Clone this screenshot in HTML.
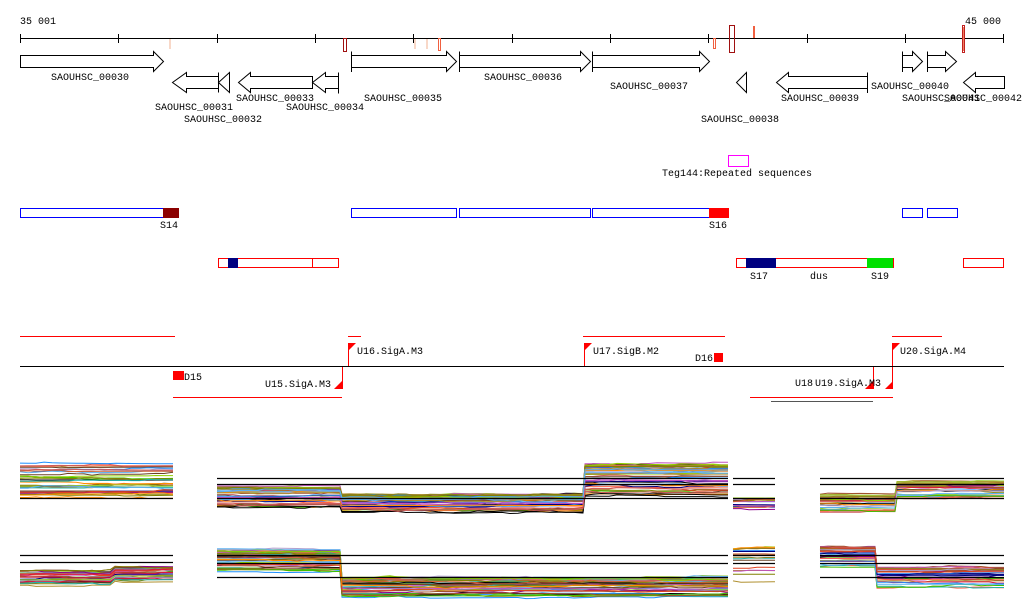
<!DOCTYPE html>
<html><head><meta charset="utf-8"><style>
body{margin:0;background:#fff}
svg text{font-family:"Liberation Mono",monospace;font-size:10px;fill:#000}
</style></head><body>
<svg id="s" width="1024" height="611" xmlns="http://www.w3.org/2000/svg">
<g stroke="#000" fill="none" stroke-width="1">
<line x1="20" y1="38.5" x2="1004" y2="38.5"/>
<path d="M20.5 34v9M118.5 34v9M217.5 34v9M315.5 34v9M413.5 34v9M512.5 34v9M610.5 34v9M708.5 34v9M807.5 34v9M905.5 34v9M1003.5 34v9"/>
</g>
<text x="20" y="24">35 001</text><text x="965" y="24">45 000</text>
<rect x="169" y="39" width="2" height="10" fill="#f8d8c8"/>
<rect x="343.5" y="38.5" width="3" height="13" fill="none" stroke="#a01010"/>
<rect x="414" y="39" width="2" height="10" fill="#f8d8c8"/>
<rect x="426" y="39" width="2" height="10" fill="#f8d8c8"/>
<rect x="438.5" y="38.5" width="2" height="12" fill="none" stroke="#f06040"/>
<rect x="713.5" y="38.5" width="2" height="10" fill="none" stroke="#f06040"/>
<rect x="729.5" y="25.5" width="5" height="27" fill="none" stroke="#a01010"/>
<rect x="753" y="26" width="2" height="12" fill="#f06040"/>
<rect x="962.5" y="25.5" width="2" height="27" fill="none" stroke="#c02020"/>
<rect x="963" y="27" width="1" height="24" fill="#f08060"/>
<g stroke="#000" fill="#fff" stroke-width="1">
<path d="M20.5 55.5H153.5V51.5L163.5 61.5L153.5 71.5V67.5H20.5Z"/>
<path d="M218.5 76.5H186.5V72.5L172.5 82.5L186.5 92.5V88.5H218.5Z"/>
<path d="M218.5 72.5V92.5M229.5 72.5L218.5 82.5L229.5 92.5Z"/>
<path d="M312.5 76.5H250.5V72.5L238.5 82.5L250.5 92.5V88.5H312.5Z"/>
<path d="M338.5 76.5H325.5V72.5L312.5 82.5L325.5 92.5V88.5H338.5Z"/>
<path d="M338.5 72.5V93.5"/>
<path d="M351.5 55.5H446.5V51.5L456.5 61.5L446.5 71.5V67.5H351.5Z M351.5 51.5V72"/>
<path d="M459.5 55.5H580.5V51.5L590.5 61.5L580.5 71.5V67.5H459.5Z M459.5 51.5V72"/>
<path d="M592.5 55.5H699.5V51.5L709.5 61.5L699.5 71.5V67.5H592.5Z M592.5 51.5V72"/>
<path d="M746.5 72.5L736.5 82.5L746.5 92.5Z"/>
<path d="M867.5 76.5H788.5V72.5L776.5 82.5L788.5 92.5V88.5H867.5Z M867.5 72.5V93"/>
<path d="M902.5 55.5H912.5V51.5L922.5 61.5L912.5 71.5V67.5H902.5Z M902.5 51.5V72"/>
<path d="M927.5 55.5H945.5V51.5L956.5 61.5L945.5 71.5V67.5H927.5Z M927.5 51.5V72"/>
<path d="M1004.5 76.5H975.5V72.5L963.5 82.5L975.5 92.5V88.5H1004.5Z"/>
</g>
<text x="51" y="80">SAOUHSC_00030</text>
<text x="155" y="110">SAOUHSC_00031</text>
<text x="184" y="122">SAOUHSC_00032</text>
<text x="236" y="101">SAOUHSC_00033</text>
<text x="286" y="110">SAOUHSC_00034</text>
<text x="364" y="101">SAOUHSC_00035</text>
<text x="484" y="80">SAOUHSC_00036</text>
<text x="610" y="89">SAOUHSC_00037</text>
<text x="701" y="122">SAOUHSC_00038</text>
<text x="781" y="101">SAOUHSC_00039</text>
<text x="871" y="89">SAOUHSC_00040</text>
<text x="902" y="101">SAOUHSC_00041</text>
<text x="944" y="101">SAOUHSC_00042</text>
<rect x="728.5" y="155.5" width="20" height="11" fill="none" stroke="#f0f"/>
<text x="662" y="176">Teg144:Repeated sequences</text>
<g fill="none" stroke="#00f">
<rect x="20.5" y="208.5" width="143" height="9"/>
<rect x="351.5" y="208.5" width="105" height="9"/>
<rect x="459.5" y="208.5" width="131" height="9"/>
<rect x="592.5" y="208.5" width="117" height="9"/>
<rect x="902.5" y="208.5" width="20" height="9"/>
<rect x="927.5" y="208.5" width="30" height="9"/>
</g>
<rect x="163" y="208" width="16" height="10" fill="#8b0000"/>
<rect x="709" y="208" width="20" height="10" fill="#f00"/>
<text x="160" y="228">S14</text><text x="709" y="228">S16</text>
<g fill="none" stroke="#f00">
<rect x="218.5" y="258.5" width="120" height="9"/><path d="M312.5 258v10"/>
<rect x="736.5" y="258.5" width="157" height="9"/>
<rect x="963.5" y="258.5" width="40" height="9"/>
</g>
<rect x="228" y="258" width="10" height="10" fill="#000080"/>
<rect x="746" y="258" width="30" height="10" fill="#000080"/>
<rect x="867" y="258" width="26" height="10" fill="#00e000"/>
<text x="750" y="279">S17</text><text x="810" y="279">dus</text><text x="871" y="279">S19</text>
<g stroke="#f00" fill="none">
<path d="M20 336.5H175M348 336.5H361M583 336.5H725M892 336.5H942M173 397.5H342M750 397.5H893"/>
<path d="M342.5 366V389M348.5 343V366M584.5 343V366M873.5 366V389M892.5 343V389"/>
</g>
<path d="M771 401.5H873" stroke="#555"/>
<line x1="20" y1="366.5" x2="1004" y2="366.5" stroke="#000"/>
<g fill="#f00">
<rect x="173" y="371" width="11" height="9"/>
<path d="M342 381V389H334Z"/><path d="M348 343H356L348 351Z"/><path d="M584 343H592L584 351Z"/>
<path d="M873 381V389H865Z"/><path d="M893 381V389H885Z"/><path d="M892 343H900L892 351Z"/>
<rect x="714" y="353" width="9" height="9"/>
</g>
<text x="184" y="380">D15</text><text x="265" y="387">U15.SigA.M3</text>
<text x="357" y="354">U16.SigA.M3</text><text x="593" y="354">U17.SigB.M2</text>
<text x="695" y="361">D16</text><text x="795" y="386">U18</text><text x="815" y="386">U19.SigA.M3</text>
<text x="900" y="354">U20.SigA.M4</text>
<g id="plots" fill="none" stroke-width="1"></g>
<g stroke="#000" stroke-width="1.2" fill="none">
<path d="M20 498.5H173M217 478.5H728M217 484.5H728M217 498.5H728M733 478.5H775M733 484.5H775M733 498.5H775M820 478.5H1004M820 484.5H1004M820 498.5H1004"/>
<path d="M20 555.5H173M20 562.5H173M217 555.5H728M217 563.5H728M217 577.5H728M733 555.5H775M733 563.5H775M820 555.5H1004M820 563.5H1004M820 577.5H1004"/>
</g>
</svg>
<script>
var seed=7;function r(){seed=(seed*16807)%2147483647;return seed/2147483647;}
var cols=["#e04020","#d06030","#a0522d","#90d000","#40c000","#8b008b","#c050c0","#5cb0f0","#1e90ff","#000080","#b09030","#908020","#808000","#ff6347","#cd5c5c","#b0a0d0","#20b2aa","#000","#ff8c00","#6b4226","#dc143c","#9acd32"];
var g=document.getElementById("plots");var out="";
function panel(segs,n){
 for(var i=0;i<n;i++){var c=cols[Math.floor(r()*cols.length)];var off=r();off=off*off*0.9+r()*0.1;var pts=[];
  segs.forEach(function(s){var x0=s[0],x1=s[1],y0=s[2],y1=s[3];var base=y0+(y1-y0)*off;var d=0;
   for(var x=x0;x<=x1;x+=8){if(r()<0.25)d+=(r()-0.5)*3;d*=0.9;var y=base+d;pts.push(x+","+y.toFixed(1));}
   pts.push(x1+","+(base+d).toFixed(1));});
  out+='<polyline stroke="'+c+'" points="'+pts.join(" ")+'"/>';}
}
panel([[20,173,464,500]],35);
panel([[217,340,486,510],[342,583,494,514],[585,728,463,500]],45);
panel([[733,775,498,509]],20);
panel([[820,895,494,514],[897,1004,481,500]],35);
panel([[20,110,570,587],[115,173,566,583]],30);
panel([[217,340,549,575],[342,728,577,600]],45);
panel([[733,775,548,585]],20);
panel([[820,875,546,570],[877,1004,567,590]],35);
g.innerHTML=out;
</script>
</body></html>
